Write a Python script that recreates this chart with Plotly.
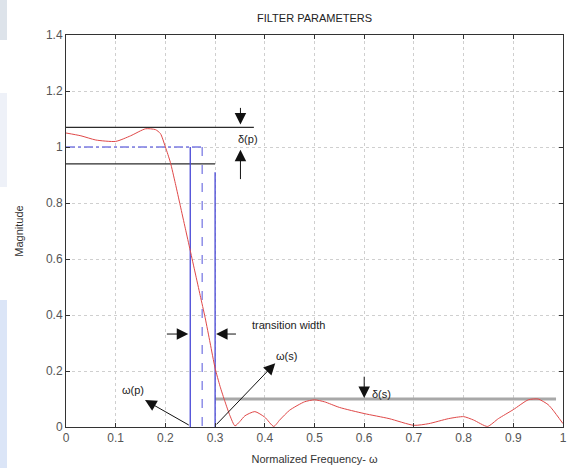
import plotly.graph_objects as go

# ---- data ----
freq = [0, 0.03, 0.06, 0.1, 0.13, 0.16, 0.18, 0.19, 0.2, 0.21, 0.22, 0.23, 0.24, 0.25,
        0.26, 0.27, 0.28, 0.29, 0.30, 0.31, 0.32, 0.33, 0.34, 0.35, 0.36, 0.38, 0.40,
        0.418, 0.43, 0.45, 0.48, 0.50, 0.52, 0.55, 0.60, 0.65, 0.70, 0.73, 0.77, 0.80,
        0.82, 0.848, 0.87, 0.90, 0.93, 0.95, 0.97, 0.98, 1.0]
mag = [1.05, 1.04, 1.025, 1.02, 1.04, 1.065, 1.062, 1.048, 1.0, 0.945, 0.87, 0.79, 0.71, 0.63,
       0.55, 0.47, 0.39, 0.30, 0.21, 0.145, 0.09, 0.04, 0.004, 0.02, 0.04, 0.055, 0.035,
       0.002, 0.025, 0.06, 0.09, 0.097, 0.09, 0.07, 0.048, 0.03, 0.006, 0.012, 0.03, 0.037,
       0.025, 0.002, 0.03, 0.062, 0.097, 0.1, 0.08, 0.06, 0.012]

x_ticks = [0, 0.1, 0.2, 0.3, 0.4, 0.5, 0.6, 0.7, 0.8, 0.9, 1]
x_ticklabels = ["0", "0.1", "0.2", "0.3", "0.4", "0.5", "0.6", "0.7", "0.8", "0.9", "1"]
y_ticks = [0, 0.2, 0.4, 0.6, 0.8, 1, 1.2, 1.4]
y_ticklabels = ["0", "0.2", "0.4", "0.6", "0.8", "1", "1.2", "1.4"]

wp, wc, ws = 0.25, 0.274, 0.30      # passband edge, cutoff, stopband edge
dp_hi, dp_lo, ds = 1.07, 0.94, 0.10  # ripple bounds
ideal = 1.0
ws_line_top = 0.91
dp_hi_end, dp_lo_end, ds_end = 0.378, 0.30, 0.986

# annotations: (text, x, y)
labels = [("δ(p)", 0.367, 1.03), ("transition width", 0.448, 0.364),
          ("ω(s)", 0.443, 0.253), ("ω(p)", 0.135, 0.131), ("δ(s)", 0.634, 0.118)]
# arrows: (tip x, tip y, tail x, tail y)
arrows = [(0.351, 1.08, 0.351, 1.145), (0.351, 0.99, 0.351, 0.88),
          (0.246, 0.332, 0.20, 0.332), (0.302, 0.332, 0.345, 0.332),
          (0.421, 0.228, 0.30, 0.004), (0.159, 0.096, 0.25, 0.004),
          (0.60, 0.104, 0.60, 0.185)]

fig = go.Figure()
black = "#2b2b2b"
blue = "#4646d6"
lblue = "#7c7ce4"

def seg(x, y, color, width, dash="solid"):
    fig.add_trace(go.Scatter(x=x, y=y, mode="lines", line=dict(color=color, width=width, dash=dash),
                             hoverinfo="skip", showlegend=False))

seg([0, dp_hi_end], [dp_hi, dp_hi], black, 1.3)
seg([0, dp_lo_end], [dp_lo, dp_lo], black, 1.3)
seg([ws, ds_end], [ds, ds], "#a8a8a8", 3)
seg([0, wc], [ideal, ideal], lblue, 1.3, "dashdot")
seg([wc, wc], [ideal, 0], lblue, 1.3, "dash")
seg([wp, wp], [0, ideal], blue, 1.3)
seg([ws, ws], [0, ws_line_top], blue, 1.3)

fig.add_trace(go.Scatter(x=freq, y=mag, mode="lines",
                         line=dict(color="#e04848", width=1, shape="spline", smoothing=0.6),
                         hoverinfo="skip", showlegend=False))

annots = []
for t, x, y in labels:
    annots.append(dict(text=t, x=x, y=y, xref="x", yref="y", showarrow=False,
                       font=dict(size=11, color="#222", family="Liberation Sans")))
for tx, ty, ax, ay in arrows:
    annots.append(dict(x=tx, y=ty, ax=ax, ay=ay, xref="x", yref="y", axref="x", ayref="y",
                       text="", showarrow=True, arrowhead=2, arrowsize=2.3, arrowwidth=1,
                       arrowcolor="#111"))
annots.append(dict(text="FILTER PARAMETERS", x=0.5, y=1.0, xref="paper", yref="paper",
                   yanchor="bottom", yshift=9, showarrow=False,
                   font=dict(size=11, color="#222", family="Liberation Sans")))

shapes = []
for y0p, y1p, col in [(0, 40, "#dde3ea"), (93, 187, "#eef1f8"), (300, 468, "#dbe5f7")]:
    shapes.append(dict(type="rect", xref="paper", yref="paper",
                       x0=-66 / 497, x1=-59 / 497,
                       y0=(427 - y1p) / 392, y1=(427 - y0p) / 392,
                       fillcolor=col, line=dict(width=0), layer="below"))

axis_common = dict(showline=True, linecolor="#333", linewidth=1, mirror="ticks",
                   ticks="inside", ticklen=4, tickcolor="#333", automargin=False,
                   showgrid=True, gridcolor="#cfcfcf", griddash="dot", gridwidth=1,
                   zeroline=False,
                   tickfont=dict(size=12, color="#555", family="Liberation Sans"))

fig.update_layout(
    width=567, height=468,
    margin=dict(l=66, r=4, t=35, b=41),
    paper_bgcolor="white", plot_bgcolor="white",
    xaxis=dict(range=[0, 1], tickvals=x_ticks, ticktext=x_ticklabels,
               title=dict(text="Normalized Frequency- ω", standoff=10,
                          font=dict(size=11, color="#333", family="Liberation Sans")),
               **axis_common),
    yaxis=dict(range=[0, 1.4], tickvals=y_ticks, ticktext=y_ticklabels,
               title=dict(text="Magnitude", standoff=20,
                          font=dict(size=11, color="#333", family="Liberation Sans")),
               **axis_common),
    annotations=annots, shapes=shapes,
)

fig.write_html("out.html", config={"displayModeBar": False},
               post_script="document.body.style.margin='0';document.body.style.overflow='hidden';")
